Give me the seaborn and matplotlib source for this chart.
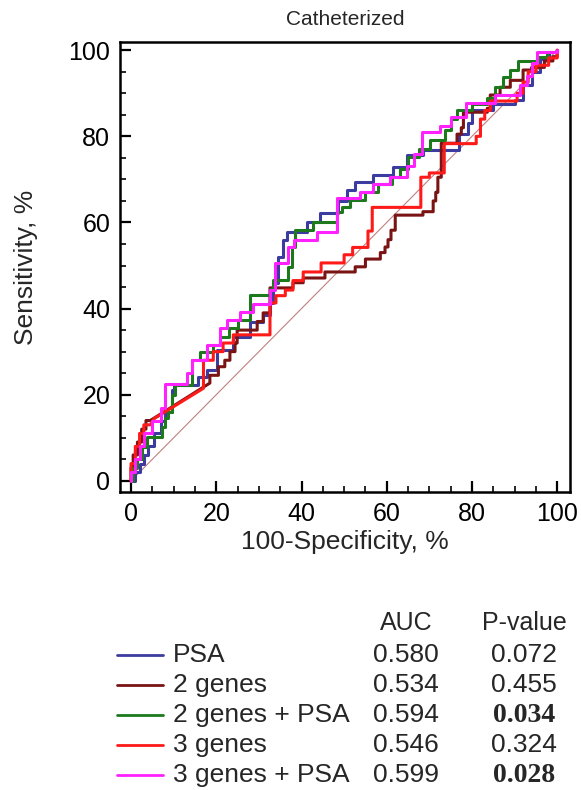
import pandas as pd
import seaborn as sns
import matplotlib.pyplot as plt
from matplotlib.lines import Line2D
from matplotlib.ticker import MultipleLocator

# ROC curves: (100-specificity, sensitivity) vertices
psa = [(0, 0), (1, 0), (1, 2), (2, 2), (2, 4), (3, 4), (3, 6), (4, 6), (4, 8), (5.5, 8), (5.5, 11),
       (7, 11), (7, 14), (8, 14), (8, 16), (9.6, 16), (9.6, 21), (10, 21), (10, 22.3), (15.7, 22.3),
       (15.7, 24), (17.8, 24), (17.8, 25.8), (20.2, 25.8), (20.2, 30.4), (23.9, 30.4), (23.9, 33.4),
       (27.9, 33.4), (27.9, 36.9), (31, 36.9), (31, 38.5), (32.6, 38.5), (32.6, 41.3), (33.3, 41.3),
       (33.3, 46), (34.5, 46), (34.5, 52), (35.7, 52), (35.7, 56), (36.6, 56), (36.6, 57.8), (41.3, 57.8),
       (41.3, 60.1), (44.4, 60.1), (44.4, 62.2), (48.6, 62.2), (48.6, 65), (50.7, 65), (50.7, 67.5),
       (52.6, 67.5), (52.6, 69.4), (56.8, 69.4), (56.8, 71), (61.5, 71), (61.5, 72.8), (64.8, 72.8),
       (64.8, 75.6), (68.5, 75.6), (68.5, 76.8), (77, 76.8), (77, 80.5), (79, 80.5), (79, 83), (80, 83),
       (80, 86), (85, 86), (85, 87.5), (90, 87.5), (90, 88.5), (92, 88.5), (92, 92), (94, 92), (94, 95),
       (96, 95), (96, 98), (98, 98), (98, 99.5), (100, 99.5), (100, 100)]

genes2 = [(0, 0), (0, 3), (0.5, 3), (0.5, 6), (1.5, 6), (1.5, 9), (2.5, 9), (2.5, 12), (3.5, 12),
          (3.5, 14), (4.5, 14), (18.5, 22.7), (18.5, 24.5), (20.5, 24.5), (20.5, 26.5), (22, 26.5),
          (22, 28), (23.2, 28), (23.2, 30), (24.4, 30), (24.4, 32), (24.9, 32), (24.9, 35), (29.6, 35),
          (29.6, 37), (31, 37), (31, 39), (32.6, 39), (32.6, 44.8), (38, 44.8), (38, 46), (40.4, 46),
          (40.4, 47.1), (45.5, 47.1), (45.5, 48.5), (52.6, 48.5), (52.6, 49.7), (55, 49.7), (55, 51.5),
          (58.5, 51.5), (58.5, 53), (59.6, 53), (59.6, 54.3), (60.3, 54.3), (60.3, 56), (61, 56),
          (61, 58.2), (62, 58.2), (62, 61.7), (68.5, 61.7), (68.5, 62.5), (70.9, 62.5), (70.9, 65),
          (71.5, 65), (71.5, 67), (72, 67), (72, 70.5), (72.8, 70.5), (72.8, 78.4), (76.5, 78.4),
          (76.5, 80.5), (77.5, 80.5), (77.5, 82), (78, 82), (78, 85.6), (83.6, 85.6), (83.6, 86.5),
          (84.3, 86.5), (84.3, 89.6), (86.6, 89.6), (86.6, 91.4), (89, 91.4), (89, 93), (92, 93),
          (92, 95.4), (94, 95.4), (94, 96), (97, 96), (97, 97.5), (99, 97.5), (99, 98.5), (100, 98.5),
          (100, 100)]

genes2_psa = [(0, 0), (0.5, 0), (0.5, 3), (1.5, 3), (1.5, 5), (2.5, 5), (2.5, 7.9), (3.8, 7.9),
              (3.8, 10.2), (7.3, 10.2), (7.3, 12.5), (8, 12.5), (8, 14.6), (8.7, 14.6), (8.7, 16),
              (9.6, 16), (9.6, 20), (10.3, 20), (10.3, 22.3), (14.3, 22.3), (14.3, 28), (16.2, 28),
              (16.2, 29.9), (19.2, 29.9), (19.2, 31.5), (20.9, 31.5), (20.9, 33.4), (23, 33.4),
              (23, 35.5), (25, 35.5), (25, 37.3), (27.9, 37.3), (27.9, 43.2), (32.6, 43.2), (32.6, 44.5),
              (33.3, 44.5), (33.3, 46.6), (36.9, 46.6), (36.9, 49.7), (37.8, 49.7), (37.8, 54.3),
              (38.5, 54.3), (38.5, 58.2), (42.7, 58.2), (42.7, 60.1), (48.4, 60.1), (48.4, 62.4),
              (49.5, 62.4), (49.5, 63.6), (51.4, 63.6), (51.4, 65.2), (55, 65.2), (55, 67), (58, 67),
              (58, 69), (61.3, 69), (61.3, 70.5), (63.1, 70.5), (63.1, 72.5), (65, 72.5), (65, 75.2),
              (67.5, 75.2), (67.5, 77), (70.2, 77), (70.2, 79.1), (73.7, 79.1), (73.7, 81.4), (75, 81.4),
              (75, 84), (76.5, 84), (76.5, 86), (80, 86), (80, 87.5), (83.6, 87.5), (83.6, 89),
              (85.5, 89), (85.5, 91.5), (87.3, 91.5), (87.3, 93.7), (89, 93.7), (89, 95.5), (90.8, 95.5),
              (90.8, 97.5), (95.5, 97.5), (95.5, 98.4), (97.5, 98.4), (97.5, 99.5), (100, 99.5), (100, 100)]

genes3 = [(0, 0), (0, 4), (1, 4), (1, 8), (2, 8), (2, 11), (3, 11), (3, 13), (4.5, 13), (5.5, 14.5),
          (17, 21.5), (17, 28), (19.3, 28), (19.3, 30), (21.6, 30), (21.6, 32), (24, 32), (24, 33.9),
          (32.6, 33.9), (32.6, 41.3), (34, 41.3), (34, 43), (36.2, 43), (36.2, 44.3), (38, 44.3),
          (38, 46.5), (40.4, 46.5), (40.4, 48.5), (44.6, 48.5), (44.6, 50.6), (50, 50.6), (50, 52.5),
          (52, 52.5), (52, 54.2), (55.6, 54.2), (55.6, 58), (56.6, 58), (56.6, 63.5), (68, 63.5),
          (68, 70.5), (70, 70.5), (70, 71.5), (73.5, 71.5), (73.5, 78.3), (81, 78.3), (81, 80), (82, 80),
          (82, 84), (83, 84), (83, 86), (84.3, 86), (84.3, 88.2), (90.6, 88.2), (90.6, 90), (92, 90),
          (92, 92.6), (93.2, 92.6), (93.2, 95), (95, 95), (95, 96.5), (98, 96.5), (98, 98.2),
          (100, 98.2), (100, 100)]

genes3_psa = [(0, 0), (0, 2), (1, 2), (1, 5), (2, 5), (2, 8), (3, 8), (3, 11), (5, 11), (5, 14),
              (7, 14), (7, 17), (8, 17), (8, 22.5), (13.1, 22.5), (13.1, 25), (14.3, 25), (14.3, 28),
              (17.8, 28), (17.8, 31.5), (20.9, 31.5), (20.9, 35.5), (22.5, 35.5), (22.5, 37.3),
              (25.6, 37.3), (25.6, 39.2), (28.7, 39.2), (28.7, 41), (32.6, 41), (32.6, 44.3), (33.8, 44.3),
              (33.8, 50.6), (36.9, 50.6), (36.9, 54.3), (38.3, 54.3), (38.3, 56), (43.7, 56), (43.7, 57.8),
              (48.4, 57.8), (48.4, 65.7), (53.8, 65.7), (53.8, 67), (56.8, 67), (56.8, 69), (60.8, 69),
              (60.8, 70.5), (64.8, 70.5), (64.8, 73), (66.5, 73), (66.5, 76), (68.3, 76), (68.3, 81),
              (72.5, 81), (72.5, 82.5), (75, 82.5), (75, 84.5), (78.5, 84.5), (78.5, 87.7), (85.4, 87.7),
              (85.4, 89.5), (91.3, 89.5), (91.3, 92), (93, 92), (93, 94), (94, 94), (94, 97), (95.3, 97),
              (95.3, 99.5), (100, 99.5), (100, 100)]

models = ["PSA", "2 genes", "2 genes + PSA", "3 genes", "3 genes + PSA"]
auc = ["0.580", "0.534", "0.594", "0.546", "0.599"]
p_values = ["0.072", "0.455", "0.034", "0.324", "0.028"]
significant = [False, False, True, False, True]
colors = ["#3c3ca0", "#7a1414", "#1c7a1c", "#ff1a1a", "#ff22ff"]
curves = [psa, genes2, genes2_psa, genes3, genes3_psa]

rows = []
for name, pts in zip(models, curves):
    for x, y in pts:
        rows.append({"model": name, "fpr": x, "tpr": y})
df = pd.DataFrame(rows)

sns.set_theme(style="white")
plt.rcParams["font.family"] = ["Liberation Sans", "DejaVu Sans"]

fig = plt.figure(figsize=(5.81, 7.90), dpi=100)
ax = fig.add_axes([0.2065, 0.3772, 0.7745, 0.5696])

# reference diagonal
ax.plot([0, 100], [0, 100], color="#c08080", lw=0.8, zorder=1)

sns.lineplot(
    data=df, x="fpr", y="tpr", hue="model", hue_order=models,
    palette=dict(zip(models, colors)), estimator=None, sort=False,
    linewidth=2.2, legend=False, ax=ax,
)

ax.set_xlim(-2.6, 103)
ax.set_ylim(-2.6, 101.9)
ax.xaxis.set_major_locator(MultipleLocator(20))
ax.yaxis.set_major_locator(MultipleLocator(20))
ax.xaxis.set_minor_locator(MultipleLocator(5))
ax.yaxis.set_minor_locator(MultipleLocator(5))
ax.tick_params(which="major", direction="in", length=8, width=1.6, labelsize=18,
               bottom=True, left=True, top=False, right=False, pad=7, colors="black")
ax.tick_params(which="minor", direction="in", length=4, width=1.4,
               bottom=True, left=True, top=False, right=False)
for s in ax.spines.values():
    s.set_linewidth(1.8)
    s.set_color("black")

ax.set_xlabel("100-Specificity, %", fontsize=19, labelpad=3)
ax.set_ylabel("Sensitivity, %", fontsize=19, labelpad=22)
ax.set_title("Catheterized", fontsize=15, pad=12)

# AUC / P-value table beneath the plot
def fy(py):
    return 1 - py / 790

auc_x = 406 / 581
p_x = 524 / 581
fig.text(auc_x, fy(623), "AUC", ha="center", va="center", fontsize=18)
fig.text(p_x, fy(623), "P-value", ha="center", va="center", fontsize=18)
row_y = [655, 685, 715, 745, 775]
for name, col, a, p, sig, y in zip(models, colors, auc, p_values, significant, row_y):
    fig.add_artist(Line2D([117 / 581, 163 / 581], [fy(y), fy(y)], color=col, lw=2.0))
    fig.text(173 / 581, fy(y), name, ha="left", va="center", fontsize=19)
    fig.text(auc_x, fy(y), a, ha="center", va="center", fontsize=19)
    if sig:
        fig.text(p_x, fy(y), p, ha="center", va="center", fontsize=20,
                 fontweight="bold", family=["Liberation Serif", "DejaVu Serif"])
    else:
        fig.text(p_x, fy(y), p, ha="center", va="center", fontsize=19)

fig.savefig("out.png", dpi=100)
